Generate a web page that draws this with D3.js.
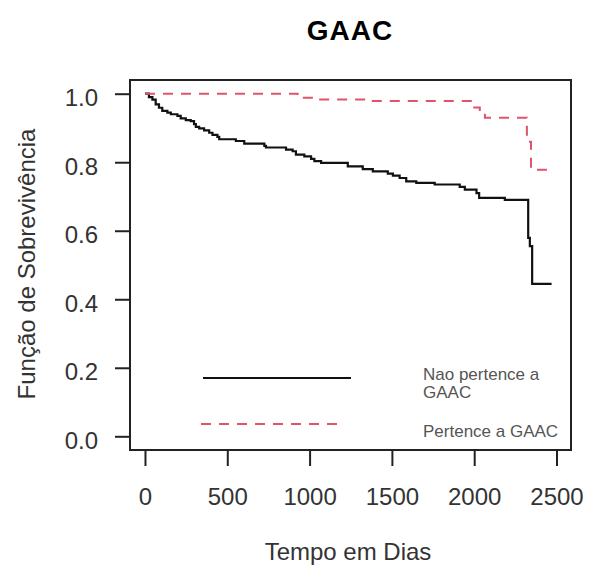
<!DOCTYPE html>
<html>
<head>
<meta charset="utf-8">
<script src="https://cdn.jsdelivr.net/npm/d3@7"></script>
<style>
  body { margin: 0; background: #fff; }
  text { font-family: "Liberation Sans", Arial, sans-serif; }
</style>
</head>
<body>
<div id="container"></div>
<script>
/* CONSTANTS AND GLOBALS */
const width = 597,
  height = 574,
  box = { left: 130, right: 571, top: 80, bottom: 450 },
  red = "#DF536B";

/* DATA */
// "Nao pertence a GAAC": step times (days) and survival after each step
const naoTimes = [0, 24, 45, 65, 85, 105, 136, 157, 197, 217, 248, 278, 298, 309, 329, 359, 390, 410, 440, 451,
  552, 603, 725, 735, 857, 897, 917, 968, 1009, 1029, 1070, 1232, 1323, 1384, 1475, 1506, 1547, 1587, 1648,
  1760, 1912, 1943, 2014, 2030, 2186, 2328, 2338, 2352];
const naoSurv = [1.0, 0.990, 0.983, 0.969, 0.959, 0.950, 0.945, 0.940, 0.935, 0.928, 0.923, 0.920, 0.911, 0.903,
  0.899, 0.893, 0.886, 0.880, 0.874, 0.867, 0.862, 0.854, 0.848, 0.843, 0.837, 0.832, 0.822, 0.817, 0.810, 0.803,
  0.798, 0.788, 0.780, 0.773, 0.767, 0.761, 0.754, 0.744, 0.740, 0.735, 0.728, 0.720, 0.710, 0.696, 0.690,
  0.579, 0.555, 0.445];
const naoEnd = 2470;

// "Pertence a GAAC"
const perTimes = [0, 927, 1030, 1384, 1993, 2034, 2065, 2320, 2345];
const perSurv = [1.0, 0.988, 0.983, 0.979, 0.960, 0.944, 0.930, 0.860, 0.778];
const perEnd = 2460;

const xTicks = [0, 500, 1000, 1500, 2000, 2500];
const yTicks = [0.0, 0.2, 0.4, 0.6, 0.8, 1.0];
const legendLabels = [["Nao pertence a", "GAAC"], ["Pertence a GAAC"]];

let xScale, yScale, svg;

function steps(times, surv, end) {
  const pts = times.map((t, i) => [t, surv[i]]);
  pts.push([end, surv[surv.length - 1]]);
  return pts;
}

init();

function init() {
  svg = d3.select("#container")
    .append("svg")
    .attr("width", width)
    .attr("height", height);

  // R style: range padded 4% each side
  xScale = d3.scaleLinear()
    .domain([-91, 2588])
    .range([box.left, box.right]);

  yScale = d3.scaleLinear()
    .domain([-0.04, 1.04])
    .range([box.bottom, box.top]);

  draw();
}

function draw() {
  const line = d3.line()
    .x(d => xScale(d[0]))
    .y(d => yScale(d[1]))
    .curve(d3.curveStepAfter);

  svg.append("path")
    .datum(steps(naoTimes, naoSurv, naoEnd))
    .attr("d", line)
    .attr("fill", "none")
    .attr("stroke", "#111")
    .attr("stroke-width", 2.2);

  svg.append("path")
    .datum(steps(perTimes, perSurv, perEnd))
    .attr("d", line)
    .attr("fill", "none")
    .attr("stroke", red)
    .attr("stroke-width", 2)
    .attr("stroke-dasharray", "10,8");

  // box
  svg.append("rect")
    .attr("x", box.left)
    .attr("y", box.top)
    .attr("width", box.right - box.left)
    .attr("height", box.bottom - box.top)
    .attr("fill", "none")
    .attr("stroke", "#222")
    .attr("stroke-width", 2);

  const xAxis = d3.axisBottom(xScale)
    .tickValues(xTicks)
    .tickSize(16)
    .tickPadding(22)
    .tickFormat(d3.format("d"));
  const gx = svg.append("g")
    .attr("transform", `translate(0, ${box.bottom})`)
    .call(xAxis);
  gx.select(".domain").remove();
  gx.selectAll("line").attr("stroke", "#222").attr("stroke-width", 2);
  gx.selectAll("text").style("font-size", "24px").attr("fill", "#333");

  const yAxis = d3.axisLeft(yScale)
    .tickValues(yTicks)
    .tickSize(15)
    .tickPadding(17)
    .tickFormat(d3.format(".1f"));
  const gy = svg.append("g")
    .attr("transform", `translate(${box.left}, 0)`)
    .call(yAxis);
  gy.select(".domain").remove();
  gy.selectAll("line").attr("stroke", "#222").attr("stroke-width", 2);
  gy.selectAll("text").style("font-size", "24px").attr("fill", "#333").attr("dy", "0.5em");

  // titles
  svg.append("text")
    .attr("x", 350)
    .attr("y", 40)
    .attr("text-anchor", "middle")
    .style("font-size", "28px")
    .style("font-weight", "bold")
    .style("letter-spacing", "1px")
    .text("GAAC");

  svg.append("text")
    .attr("x", 348)
    .attr("y", 560)
    .attr("text-anchor", "middle")
    .style("font-size", "24px")
    .attr("fill", "#333")
    .text("Tempo em Dias");

  svg.append("text")
    .attr("transform", "translate(35, 264) rotate(-90)")
    .attr("text-anchor", "middle")
    .style("font-size", "24px")
    .attr("fill", "#333")
    .text("Função de Sobrevivência");

  // legend
  const lg = svg.append("g");
  lg.append("line")
    .attr("x1", 203).attr("x2", 351).attr("y1", 378).attr("y2", 378)
    .attr("stroke", "#111").attr("stroke-width", 2);
  lg.append("line")
    .attr("x1", 201).attr("x2", 343).attr("y1", 424).attr("y2", 424)
    .attr("stroke", red).attr("stroke-width", 2).attr("stroke-dasharray", "10,8");

  const t1 = lg.append("text")
    .attr("x", 423).attr("y", 380)
    .style("font-size", "17px").attr("fill", "#555");
  legendLabels[0].forEach((s, i) => {
    t1.append("tspan").attr("x", 423).attr("dy", i ? "1.05em" : 0).text(s);
  });
  lg.append("text")
    .attr("x", 423).attr("y", 437)
    .style("font-size", "17px").attr("fill", "#555")
    .text(legendLabels[1][0]);
}
</script>
</body>
</html>
